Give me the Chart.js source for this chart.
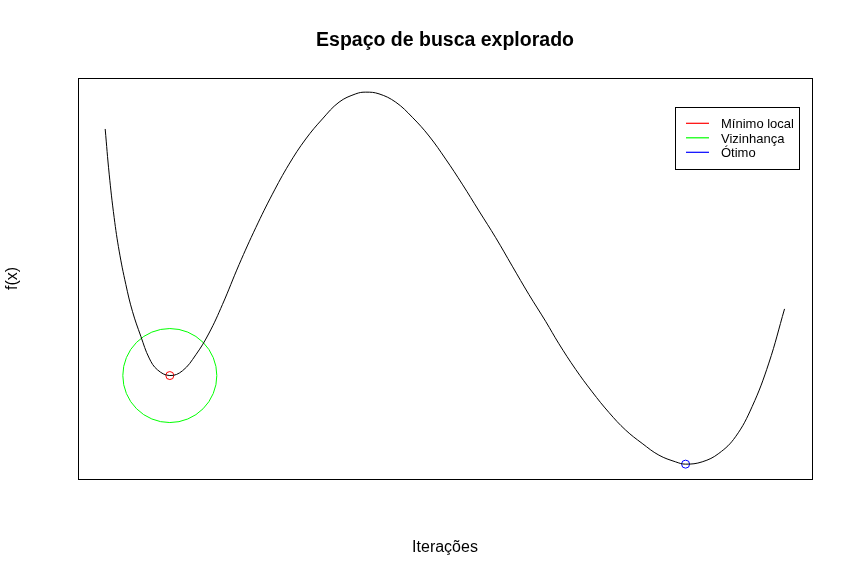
<!DOCTYPE html>
<html>
<head>
<meta charset="utf-8">
<script src="https://cdn.jsdelivr.net/npm/chart.js@4/dist/chart.umd.min.js"></script>
<style>
  html, body { margin: 0; padding: 0; background: #ffffff; }
  #wrap { width: 853px; height: 578px; }
</style>
</head>
<body>
<div id="wrap"><canvas id="c" width="853" height="578"></canvas></div>
<script>
// ---- Data ----
const iterations = [0, 0.59, 1.32, 2.06, 3.04, 4.01, 5.25, 6.47, 7.69, 9.51, 11.37, 13.34, 15.29, 17.25, 19.71, 22.16, 24.60, 27.06, 29.51, 31.96, 34.41, 36.87, 38.34, 40.29, 42.75, 45.19, 47.65, 50.10, 52.54, 55.0, 57.46, 59.9, 62.35, 64.81, 66.76, 69.22, 71.66, 74.12, 76.57, 79.01, 81.47, 83.93, 85.40, 87.84, 90.29, 92.75, 95.19, 97.65, 99.96];
const fValues   = [90.27, 78.11, 66.41, 57.38, 48.38, 41.16, 34.41, 28.57, 25.41, 23.86, 25.14, 29.46, 35.32, 42.97, 53.78, 63.70, 72.70, 80.81, 87.57, 92.97, 97.49, 99.73, 100.19, 99.73, 97.49, 93.43, 88.38, 82.16, 75.41, 68.19, 61.0, 53.32, 45.68, 38.46, 32.43, 25.54, 19.46, 13.92, 9.19, 5.59, 2.43, 0.62, 0.0, 0.62, 2.89, 7.38, 15.49, 27.22, 41.81];
const localMinX = [9.51];
const localMinF = [23.86];
const optimumX = [85.40];
const optimumF = [0.0];
const seriesLabels = ["Mínimo local", "Vizinhança", "Ótimo"];
const seriesColors = ["#ff0000", "#00ff00", "#0000ff"];
const titleText = "Espaço de busca explorado";
const xLabel = "Iterações";
const yLabel = "f(x)";

const toPoints = (xs, ys) => xs.map((x, i) => ({ x: x, y: ys[i] }));
const FONT = "'Liberation Sans', Arial, Helvetica, sans-serif";

const framePlugin = {
  id: 'rframe',
  afterDraw(chart) {
    const ctx = chart.ctx;
    const a = chart.chartArea;
    ctx.save();
    ctx.globalAlpha = 1;
    ctx.setLineDash([]);
    // plot box
    ctx.strokeStyle = '#000000';
    ctx.lineWidth = 1;
    ctx.strokeRect(Math.round(a.left) + 0.5, Math.round(a.top) + 0.5,
                   Math.round(a.right - a.left), Math.round(a.bottom - a.top));
    // axis labels
    ctx.fillStyle = '#000000';
    ctx.font = '16px ' + FONT;
    ctx.textAlign = 'center';
    ctx.textBaseline = 'middle';
    ctx.fillText(xLabel, (a.left + a.right) / 2, 548);
    ctx.save();
    ctx.translate(13, (a.top + a.bottom) / 2);
    ctx.rotate(-Math.PI / 2);
    ctx.fillText(yLabel, 0, 0);
    ctx.restore();
    // legend box
    const bx = 675.5, by = 107.5, bw = 124, bh = 62;
    ctx.fillStyle = '#ffffff';
    ctx.fillRect(bx, by, bw, bh);
    ctx.strokeStyle = '#000000';
    ctx.strokeRect(bx, by, bw, bh);
    // legend entries
    ctx.font = '13px ' + FONT;
    ctx.textAlign = 'left';
    ctx.textBaseline = 'middle';
    seriesLabels.forEach((label, i) => {
      const y = 123.3 + i * 14.5;
      ctx.beginPath();
      ctx.lineWidth = 1.2;
      ctx.strokeStyle = seriesColors[i];
      ctx.moveTo(686, y);
      ctx.lineTo(709, y);
      ctx.stroke();
    });
    ctx.fillStyle = '#000000';
    seriesLabels.forEach((label, i) => {
      const y = Math.round(123 + i * 14.5) + 0.5;
      ctx.fillText(label, 721, y + 0.5);
    });
    ctx.restore();
  }
};

new Chart(document.getElementById('c'), {
  type: 'scatter',
  data: {
    datasets: [
      {
        label: 'f',
        data: toPoints(iterations, fValues),
        showLine: true,
        borderColor: '#000000',
        borderWidth: 1,
        pointRadius: 0,
        tension: 0.4,
        fill: false
      },
      {
        label: seriesLabels[1],
        data: toPoints(localMinX, localMinF),
        borderColor: seriesColors[1],
        backgroundColor: 'rgba(0,0,0,0)',
        borderWidth: 1,
        pointRadius: 47
      },
      {
        label: seriesLabels[0],
        data: toPoints(localMinX, localMinF),
        borderColor: seriesColors[0],
        backgroundColor: 'rgba(0,0,0,0)',
        borderWidth: 1,
        pointRadius: 4
      },
      {
        label: seriesLabels[2],
        data: toPoints(optimumX, optimumF),
        borderColor: seriesColors[2],
        backgroundColor: 'rgba(0,0,0,0)',
        borderWidth: 1,
        pointRadius: 4
      }
    ]
  },
  options: {
    responsive: false,
    animation: false,
    devicePixelRatio: 1,
    layout: { autoPadding: false, padding: { left: 78, right: 41, top: 0, bottom: 99 } },
    scales: {
      x: { type: 'linear', min: -4, max: 104, display: false },
      y: { type: 'linear', min: -4, max: 104, display: false }
    },
    plugins: {
      legend: { display: false },
      tooltip: { enabled: false },
      title: {
        display: true,
        text: titleText,
        color: '#000000',
        font: { family: FONT, size: 19.5, weight: 'bold', lineHeight: 1.2 },
        padding: { top: 29, bottom: 25.6 }
      }
    }
  },
  plugins: [framePlugin]
});
</script>
</body>
</html>
